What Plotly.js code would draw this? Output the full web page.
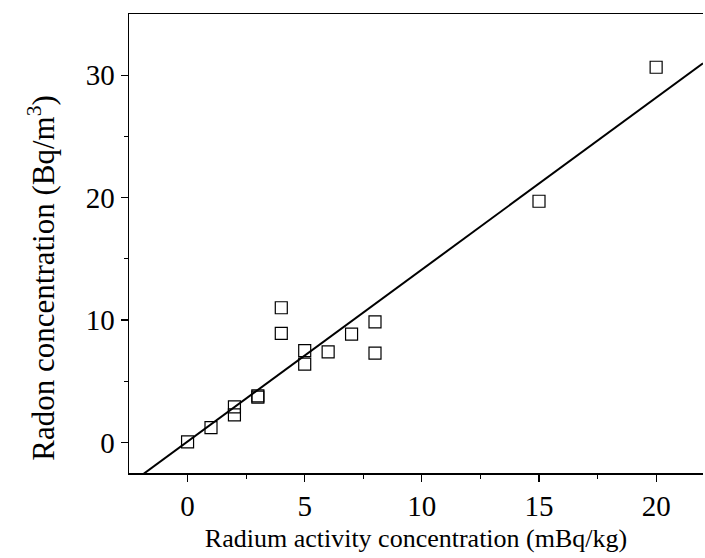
<!DOCTYPE html>
<html>
<head>
<meta charset="utf-8">
<script src="https://cdn.plot.ly/plotly-3.0.1.min.js"></script>
<style>html,body{margin:0;padding:0;background:#fff;}#chart{width:705px;height:558px;}</style>
</head>
<body>
<div id="chart"></div>
<script>
const radium = [0, 1, 2, 2, 3, 3, 4, 4, 5, 5, 6, 7, 8, 8, 15, 20];
const radon = [0.05, 1.2, 2.9, 2.25, 3.8, 3.7, 11.0, 8.9, 7.5, 6.4, 7.4, 8.85, 9.85, 7.3, 19.7, 30.65];
const fitSlope = 1.405;
const fitIntercept = 0.07;
const fitX = [-2.5, 22];
const fitY = fitX.map(x => fitSlope * x + fitIntercept);
const xTicks = [0, 5, 10, 15, 20];
const yTicks = [0, 10, 20, 30];
const xTitle = 'Radium activity concentration (mBq/kg)';
const yTitle = 'Radon concentration (Bq/m<sup>3</sup>)';

const font = {family: '"Liberation Serif", "Times New Roman", serif', color: '#000'};

const traces = [
  {x: radium, y: radon, type: 'scatter', mode: 'markers',
   marker: {symbol: 'square-open', size: 12, color: '#000', line: {width: 1.2, color: '#000'}},
   cliponaxis: false, showlegend: false},
  {x: fitX, y: fitY, type: 'scatter', mode: 'lines',
   line: {color: '#000', width: 2}, showlegend: false}
];

const layout = {
  width: 705, height: 558,
  margin: {l: 129, r: 2, t: 14, b: 85},
  paper_bgcolor: '#fff', plot_bgcolor: '#fff',
  font: Object.assign({size: 26}, font),
  xaxis: {
    range: [-2.5, 22], tickvals: xTicks, ticktext: xTicks.map(String),
    showgrid: false, zeroline: false, showline: true, mirror: true,
    linecolor: '#000', linewidth: 1.5, ticks: 'outside', ticklen: 7, tickwidth: 1.2, tickcolor: '#000',
    tickfont: Object.assign({size: 29}, font),
    minor: {tickvals: [2.5, 7.5, 12.5, 17.5], ticks: 'outside', ticklen: 4, tickwidth: 1.2, tickcolor: '#000', showgrid: false},
    title: {text: xTitle, font: Object.assign({size: 26}, font), standoff: 7}
  },
  yaxis: {
    range: [-2.5, 35], tickvals: yTicks, ticktext: yTicks.map(String),
    showgrid: false, zeroline: false, showline: true, mirror: false,
    linecolor: '#000', linewidth: 1.5, ticks: 'outside', ticklen: 7, tickwidth: 1.2, tickcolor: '#000',
    tickfont: Object.assign({size: 29}, font),
    minor: {tickvals: [5, 15, 25], ticks: 'outside', ticklen: 4, tickwidth: 1.2, tickcolor: '#000', showgrid: false}
  },
  annotations: [
    {text: yTitle, xref: 'paper', yref: 'paper', x: -0.152, y: 0.425,
     xanchor: 'center', yanchor: 'middle', textangle: -90, showarrow: false,
     font: Object.assign({size: 31}, font)}
  ]
};

Plotly.newPlot('chart', traces, layout, {displayModeBar: false, staticPlot: true});
</script>
</body>
</html>
